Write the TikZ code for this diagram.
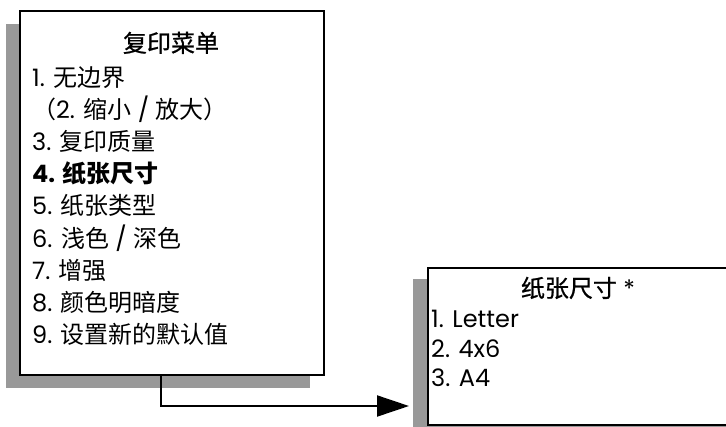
\documentclass[tikz,border=0pt]{standalone}
\usepackage{fontspec}
\setmainfont{Poppins}
\newfontfamily\cjk{Noto Sans CJK SC}
\newfontfamily\cjkmed{Noto Sans CJK SC}[FakeBold=0.8]
\usetikzlibrary{arrows.meta}
\newcommand\zh[1]{{\cjk #1}}
\definecolor{shadowgray}{HTML}{999999}
\begin{document}
\begin{tikzpicture}[x=1pt,y=-1pt,
  frame/.style={draw=black,line width=2pt,fill=white,inner sep=0pt,anchor=north west},
  shade/.style={fill=shadowgray,inner sep=0pt,anchor=north west},
  txt/.style={anchor=base west,inner sep=0pt,font=\fontsize{24}{28}\selectfont},
  ttl/.style={anchor=base,inner sep=0pt,font=\fontsize{24}{28}\selectfont},
  conn/.style={line width=2pt,-{Triangle[length=32pt,width=21pt]}}]
\useasboundingbox (0,0) rectangle (726,426);
% left menu
\node[shade,minimum width=304pt,minimum height=364pt] (sh1) at (6,24) {};
\node[frame,minimum width=304pt,minimum height=364pt] (menu) at (19,10) {};
\node[ttl] (t0) at (171,52) {{\cjkmed 复印菜单}};
\node[txt] (m1) at (32,86)  {1. \zh{无边界}};
\node[txt] (m2) at (32,118) {\zh{（}2. \zh{缩小} / \zh{放大）}};
\node[txt] (m3) at (32,150) {3. \zh{复印质量}};
\node[txt] (m4) at (32,182) {\textbf{4. {\cjk\bfseries 纸张尺寸}}};
\node[txt] (m5) at (32,214) {5. \zh{纸张类型}};
\node[txt] (m6) at (32,247) {6. \zh{浅色} / \zh{深色}};
\node[txt] (m7) at (32,279) {7. \zh{增强}};
\node[txt] (m8) at (32,311) {8. \zh{颜色明暗度}};
\node[txt] (m9) at (32,343) {9. \zh{设置新的默认值}};
% right submenu
\node[shade,minimum width=330pt,minimum height=160pt] (sh2) at (413,279) {};
\node[frame,minimum width=303pt,minimum height=157pt] (sub) at (427,267) {};
\node[ttl] (s0) at (578,297) {{\cjkmed 纸张尺寸} *};
\node[txt] (s1) at (431,327) {1. Letter};
\node[txt] (s2) at (431,357) {2. 4x6};
\node[txt] (s3) at (431,386) {3. A4};
% connector
\coordinate (c1) at (161,374);
\coordinate (tip) at (409,406);
\draw[conn] (c1) |- (tip);
\end{tikzpicture}
\end{document}
